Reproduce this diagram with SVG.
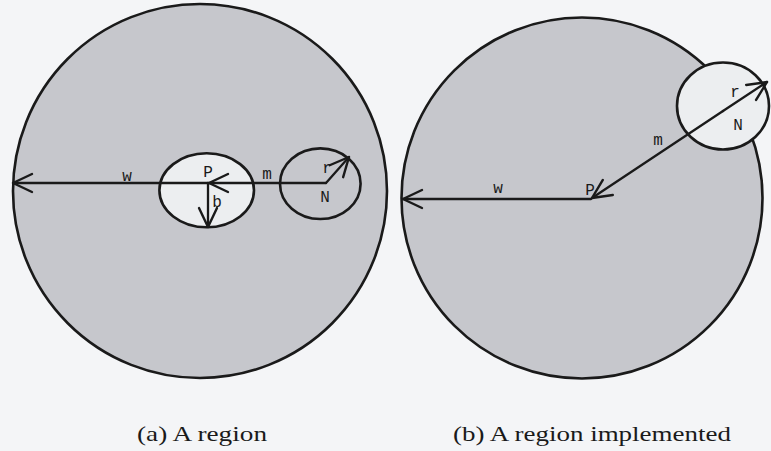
<svg xmlns="http://www.w3.org/2000/svg" width="771" height="451" viewBox="0 0 771 451">
  <defs>
    <style>
      .region { fill: #c6c7cc; stroke: #1a1a1a; stroke-width: 2.6; }
      .hole { fill: #eceef0; stroke: #1a1a1a; stroke-width: 2.6; }
      .ring { fill: none; stroke: #1a1a1a; stroke-width: 2.6; }
      .conn { stroke: #1a1a1a; stroke-width: 2.3; fill: none; stroke-linecap: round; marker-end: url(#arr); }
      .lbl { font-family: "Liberation Mono", "DejaVu Sans Mono", monospace; font-size: 16px; fill: #1a1a1a; text-anchor: middle; }
      .cap { font-family: "Liberation Serif", "DejaVu Serif", serif; font-size: 22px; fill: #1a1a1a; }
    </style>
    <marker id="arr" viewBox="-23 -12 26 24" refX="0" refY="0" markerWidth="26" markerHeight="24" markerUnits="userSpaceOnUse" orient="auto">
      <path d="M-19,-9 L0,0 L-19,9" fill="none" stroke="#1a1a1a" stroke-width="2.4" stroke-linecap="round" stroke-linejoin="round"/>
    </marker>
  </defs>
  <rect x="0" y="0" width="771" height="451" fill="#f4f5f7"/>

  <!-- (a) -->
  <g id="region-a">
    <circle class="region" cx="200" cy="191" r="187"/>
  </g>
  <g id="P-a">
    <ellipse class="hole" cx="206.7" cy="190.3" rx="47.3" ry="37"/>
    <text class="lbl" x="208" y="177">P</text>
  </g>
  <g id="N-a">
    <ellipse class="ring" cx="320.3" cy="183.7" rx="40.3" ry="35.3"/>
    <text class="lbl" x="325" y="202">N</text>
  </g>

  <!-- (b) -->
  <g id="region-b">
    <circle class="region" cx="582" cy="198" r="180.5"/>
  </g>
  <g id="N-b">
    <ellipse class="hole" cx="723" cy="106" rx="46" ry="43.5"/>
    <text class="lbl" x="738" y="130">N</text>
  </g>
  <g id="P-b">
    <text class="lbl" x="590" y="195">P</text>
  </g>

  <g id="connectors">
    <!-- (a) -->
    <line class="conn" x1="326" y1="183" x2="209" y2="183"/>
    <line class="conn" x1="208" y1="183" x2="13" y2="183"/>
    <line class="conn" x1="208" y1="183" x2="208" y2="227"/>
    <line class="conn" x1="326" y1="183" x2="349" y2="157"/>
    <!-- (b) -->
    <line class="conn" x1="591" y1="199" x2="403" y2="199"/>
    <line class="conn" x1="723" y1="111" x2="592" y2="198"/>
    <line class="conn" x1="723" y1="111" x2="767" y2="82"/>
  </g>

  <g id="labels">
    <text class="lbl" x="127" y="181">w</text>
    <text class="lbl" x="267" y="179">m</text>
    <text class="lbl" x="217" y="207">b</text>
    <text class="lbl" x="327" y="173">r</text>
    <text class="lbl" x="498" y="193">w</text>
    <text class="lbl" x="658" y="145">m</text>
    <text class="lbl" x="735" y="97">r</text>
  </g>

  <g id="captions">
    <text class="cap" x="137" y="441" textLength="130" lengthAdjust="spacingAndGlyphs">(a) A region</text>
    <text class="cap" x="453" y="441" textLength="278" lengthAdjust="spacingAndGlyphs">(b) A region implemented</text>
  </g>
</svg>
